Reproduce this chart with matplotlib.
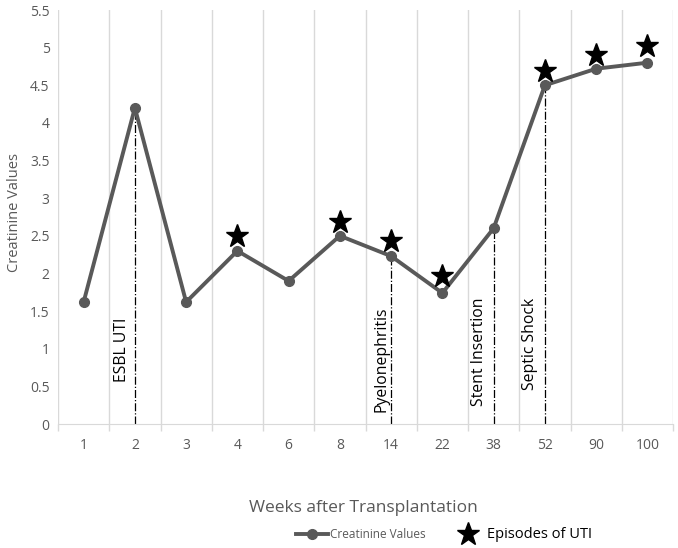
import matplotlib
matplotlib.use("Agg")
import matplotlib.pyplot as plt
from matplotlib.lines import Line2D

weeks = ["1", "2", "3", "4", "6", "8", "14", "22", "38", "52", "90", "100"]
creatinine = [1.62, 4.2, 1.62, 2.3, 1.9, 2.5, 2.23, 1.74, 2.6, 4.5, 4.72, 4.8]
uti_weeks = ["4", "8", "14", "22", "52", "90", "100"]
uti_values = [2.5, 2.68, 2.43, 1.97, 4.69, 4.9, 5.02]
event_weeks = ["2", "14", "38", "52"]
event_labels = ["ESBL UTI", "Pyelonephritis", "Stent Insertion", "Septic Shock"]
event_label_y = [0.56, 0.16, 0.24, 0.45]
event_label_dx = [-0.25, -0.18, -0.29, -0.29]

plt.rcParams['font.family'] = ['Open Sans', 'DejaVu Sans']
gray = '#595959'

fig = plt.figure(figsize=(6.78, 5.48), dpi=100)
ax = fig.add_axes([58/678, 1-424/548, (673-58)/678, (424-10)/548])

x = list(range(len(weeks)))
idx = {w: i for i, w in enumerate(weeks)}

for w, lab, ly, dx in zip(event_weeks, event_labels, event_label_y, event_label_dx):
    i = idx[w]
    ax.plot([i, i], [0, creatinine[i]], color='black', lw=0.9, ls='-.', zorder=2)
    ax.text(i + dx, ly, lab, rotation=90, ha='center', va='bottom',
            fontsize=11.3, color='black')

ax.plot(x, creatinine, color=gray, lw=2.8, marker='o', ms=7, zorder=3)
ax.plot([idx[w] for w in uti_weeks], uti_values, ls='none', marker='*',
        ms=17, color='black', zorder=4)

ax.set_xlim(-0.5, len(weeks) - 0.5)
ax.set_ylim(0, 5.5)
ax.set_yticks([i * 0.5 for i in range(12)])
ax.set_yticklabels(['0', '0.5', '1', '1.5', '2', '2.5', '3', '3.5', '4', '4.5', '5', '5.5'])
ax.set_xticks(x)
ax.set_xticklabels(weeks)
ax.set_xticks([i - 0.5 for i in range(len(weeks) + 1)], minor=True)
ax.tick_params(axis='x', which='major', length=0, pad=10, labelsize=10, colors=gray)
ax.tick_params(axis='x', which='minor', length=5, color='#d9d9d9', width=1)
ax.tick_params(axis='y', length=0, labelsize=10, colors=gray, pad=6)
ax.grid(axis='x', which='minor', color='#d9d9d9', lw=1)
ax.grid(axis='x', which='major', visible=False)
for s in ['top', 'right', 'left']:
    ax.spines[s].set_visible(False)
ax.spines['bottom'].set_color('#d9d9d9')
ax.set_axisbelow(True)

ax.set_ylabel('Creatinine Values', fontsize=10.5, color=gray, labelpad=8)
ax.yaxis.set_label_coords(-0.058, 0.51)
fig.text(363/678, 1-508/548, 'Weeks after Transplantation', ha='center', va='center',
         fontsize=12.5, color=gray)

h1 = Line2D([], [], color=gray, lw=2.8, marker='o', ms=7)
h2 = Line2D([], [], ls='none', marker='*', ms=17, color='black')
leg = fig.legend([h1, h2], ['Creatinine Values', 'Episodes of UTI'], loc='center',
                 bbox_to_anchor=(444/678, 1-535/548), ncol=2, frameon=False,
                 handlelength=2.3, handletextpad=0.15, columnspacing=1.9)
leg.get_texts()[0].set_fontsize(8.5)
leg.get_texts()[0].set_color(gray)
leg.get_texts()[1].set_fontsize(10.5)
leg.get_texts()[1].set_color('black')

fig.savefig('out.png', dpi=100)
